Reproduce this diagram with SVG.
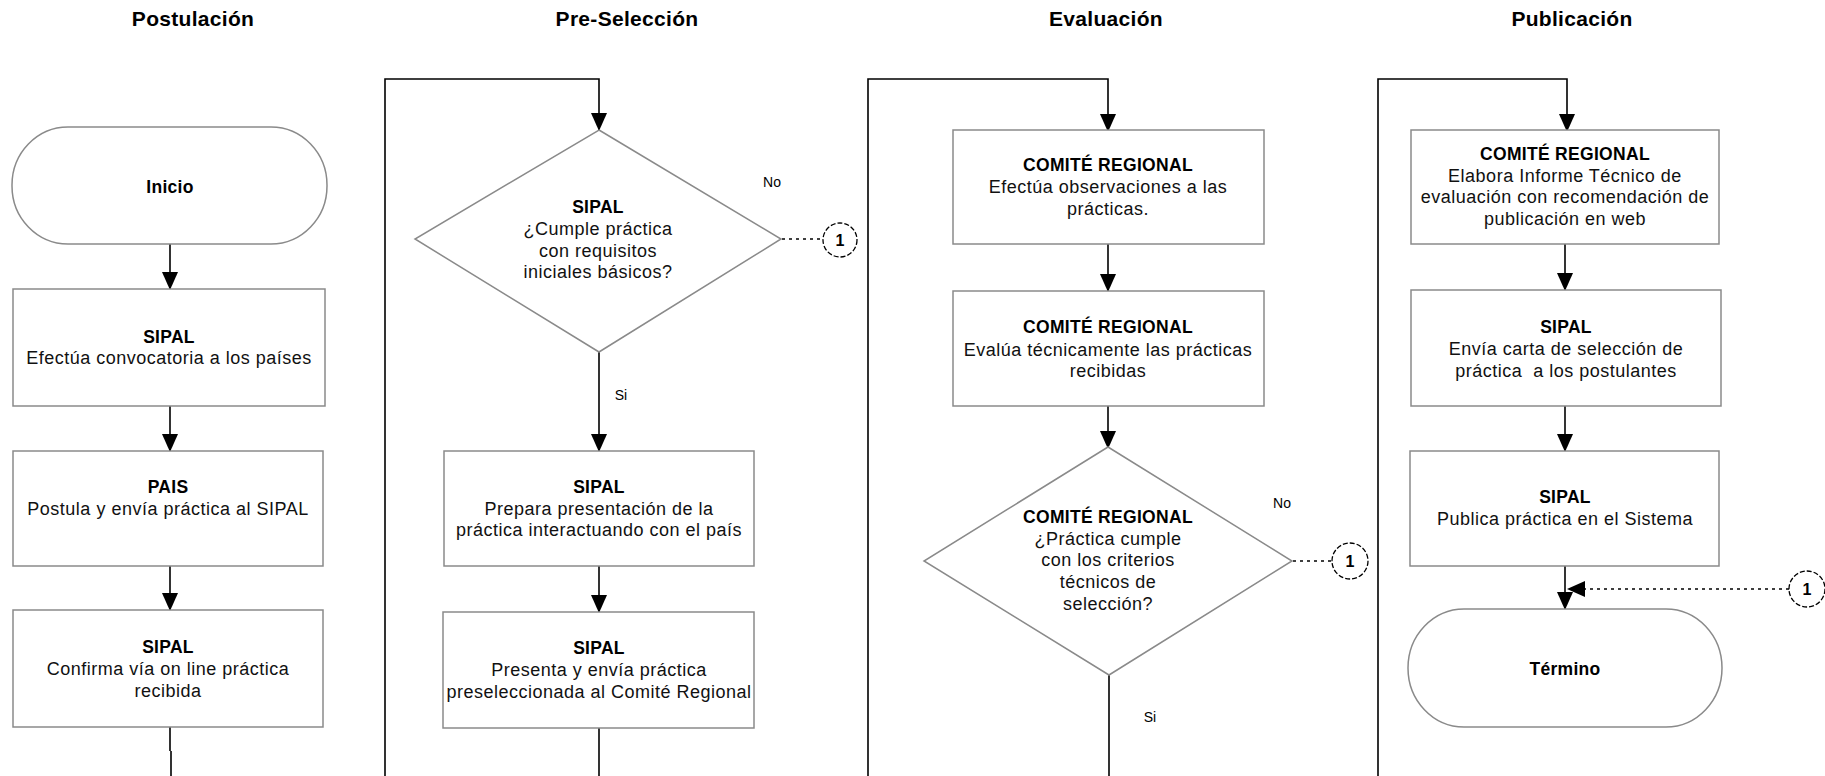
<svg xmlns="http://www.w3.org/2000/svg" width="1825" height="776" viewBox="0 0 1825 776">
<defs>
<style>
.bg{fill:#ffffff}
.box{fill:#ffffff;stroke:#8a8a8a;stroke-width:1.5}
.ln{fill:none;stroke:#000;stroke-width:1.6}
.dot{fill:none;stroke:#000;stroke-width:1.5;stroke-dasharray:3 4}
.cir{fill:#ffffff;stroke:#000;stroke-width:1.3;stroke-dasharray:5 2}
text{font-family:"Liberation Sans",Arial,sans-serif;fill:#000;text-anchor:middle}
.t{font-size:21px;font-weight:bold;letter-spacing:0.3px}
.b{font-size:17.5px;font-weight:bold;letter-spacing:0.3px}
.r{font-size:18px;letter-spacing:0.5px;fill:#111}
.s{font-size:14px}
.n{font-size:16px;font-weight:bold}
</style>
<marker id="ah" markerUnits="userSpaceOnUse" markerWidth="19" markerHeight="17" refX="18" refY="8" orient="auto">
<path d="M0,0 L18,8 L0,16 z" fill="#000"/>
</marker>
</defs>
<rect class="bg" x="0" y="0" width="1825" height="776"/>

<g id="titles">
<text class="t" x="193" y="26">Postulación</text>
<text class="t" x="627" y="26">Pre-Selección</text>
<text class="t" x="1106" y="26">Evaluación</text>
<text class="t" x="1572" y="26">Publicación</text>
</g>

<g id="connectors">
<line class="ln" x1="170" y1="244" x2="170" y2="290" marker-end="url(#ah)"/>
<line class="ln" x1="170" y1="406" x2="170" y2="452" marker-end="url(#ah)"/>
<line class="ln" x1="170" y1="566" x2="170" y2="611" marker-end="url(#ah)"/>
<path class="ln" d="M170,727 V751 M171,751 V776"/>
<path class="ln" d="M385,776 V79 H599 V131" marker-end="url(#ah)"/>
<line class="ln" x1="599" y1="352" x2="599" y2="452" marker-end="url(#ah)"/>
<line class="ln" x1="599" y1="566" x2="599" y2="613" marker-end="url(#ah)"/>
<line class="ln" x1="599" y1="728" x2="599" y2="776"/>
<path class="ln" d="M868,776 V79 H1108 V132" marker-end="url(#ah)"/>
<line class="ln" x1="1108" y1="244" x2="1108" y2="292" marker-end="url(#ah)"/>
<line class="ln" x1="1108" y1="406" x2="1108" y2="449" marker-end="url(#ah)"/>
<line class="ln" x1="1109" y1="675" x2="1109" y2="776"/>
<path class="ln" d="M1378,776 V79 H1567 V132" marker-end="url(#ah)"/>
<line class="ln" x1="1565" y1="244" x2="1565" y2="291" marker-end="url(#ah)"/>
<line class="ln" x1="1565" y1="406" x2="1565" y2="452" marker-end="url(#ah)"/>
<line class="ln" x1="1565" y1="566" x2="1565" y2="610" marker-end="url(#ah)"/>
<line class="dot" x1="782" y1="239" x2="823" y2="239"/>
<line class="dot" x1="1293" y1="561" x2="1332" y2="561"/>
<line class="dot" x1="1789" y1="589" x2="1567" y2="589" marker-end="url(#ah)"/>
<text class="s" x="772" y="187">No</text>
<text class="s" x="621" y="400">Si</text>
<text class="s" x="1282" y="508">No</text>
<text class="s" x="1150" y="722">Si</text>
</g>

<g id="inicio">
<rect class="box" x="12" y="127" width="315" height="117" rx="56" ry="58"/>
<text class="b" x="170" y="193">Inicio</text>
</g>

<g id="p1">
<rect class="box" x="13" y="289" width="312" height="117"/>
<text class="b" x="169" y="343">SIPAL</text>
<text class="r" x="169" y="364">Efectúa convocatoria a los países</text>
</g>

<g id="p2">
<rect class="box" x="13" y="451" width="310" height="115"/>
<text class="b" x="168" y="493">PAIS</text>
<text class="r" x="168" y="515">Postula y envía práctica al SIPAL</text>
</g>

<g id="p3">
<rect class="box" x="13" y="610" width="310" height="117"/>
<text class="b" x="168" y="653">SIPAL</text>
<text class="r" x="168" y="675">Confirma vía on line práctica</text>
<text class="r" x="168" y="697">recibida</text>
</g>

<g id="d1">
<polygon class="box" points="599,130 781,239 599,352 415,239"/>
<text class="b" x="598" y="213">SIPAL</text>
<text class="r" x="598" y="235">¿Cumple práctica</text>
<text class="r" x="598" y="257">con requisitos</text>
<text class="r" x="598" y="278">iniciales básicos?</text>
</g>

<g id="c1">
<circle class="cir" cx="840" cy="240" r="17"/>
<text class="n" x="840" y="246">1</text>
</g>

<g id="s1">
<rect class="box" x="444" y="451" width="310" height="115"/>
<text class="b" x="599" y="493">SIPAL</text>
<text class="r" x="599" y="515">Prepara presentación de la</text>
<text class="r" x="599" y="536">práctica interactuando con el país</text>
</g>

<g id="s2">
<rect class="box" x="443" y="612" width="311" height="116"/>
<text class="b" x="599" y="654">SIPAL</text>
<text class="r" x="599" y="676">Presenta y envía práctica</text>
<text class="r" x="599" y="698">preseleccionada al Comité Regional</text>
</g>

<g id="e1">
<rect class="box" x="953" y="130" width="311" height="114"/>
<text class="b" x="1108" y="171">COMITÉ REGIONAL</text>
<text class="r" x="1108" y="193">Efectúa observaciones a las</text>
<text class="r" x="1108" y="215">prácticas.</text>
</g>

<g id="e2">
<rect class="box" x="953" y="291" width="311" height="115"/>
<text class="b" x="1108" y="333">COMITÉ REGIONAL</text>
<text class="r" x="1108" y="356">Evalúa técnicamente las prácticas</text>
<text class="r" x="1108" y="377">recibidas</text>
</g>

<g id="d2">
<polygon class="box" points="1108,447 1292,561 1109,675 924,561"/>
<text class="b" x="1108" y="523">COMITÉ REGIONAL</text>
<text class="r" x="1108" y="545">¿Práctica cumple</text>
<text class="r" x="1108" y="566">con los criterios</text>
<text class="r" x="1108" y="588">técnicos de</text>
<text class="r" x="1108" y="610">selección?</text>
</g>

<g id="c2">
<circle class="cir" cx="1350" cy="561" r="18"/>
<text class="n" x="1350" y="567">1</text>
</g>

<g id="u1">
<rect class="box" x="1411" y="130" width="308" height="114"/>
<text class="b" x="1565" y="160">COMITÉ REGIONAL</text>
<text class="r" x="1565" y="182">Elabora Informe Técnico de</text>
<text class="r" x="1565" y="203">evaluación con recomendación de</text>
<text class="r" x="1565" y="225">publicación en web</text>
</g>

<g id="u2">
<rect class="box" x="1411" y="290" width="310" height="116"/>
<text class="b" x="1566" y="333">SIPAL</text>
<text class="r" x="1566" y="355">Envía carta de selección de</text>
<text class="r" x="1566" y="377" xml:space="preserve">práctica  a los postulantes</text>
</g>

<g id="u3">
<rect class="box" x="1410" y="451" width="309" height="115"/>
<text class="b" x="1565" y="503">SIPAL</text>
<text class="r" x="1565" y="525">Publica práctica en el Sistema</text>
</g>

<g id="c3">
<circle class="cir" cx="1807" cy="589" r="18"/>
<text class="n" x="1807" y="595">1</text>
</g>

<g id="termino">
<rect class="box" x="1408" y="609" width="314" height="118" rx="56" ry="59"/>
<text class="b" x="1565" y="675">Término</text>
</g>
</svg>
